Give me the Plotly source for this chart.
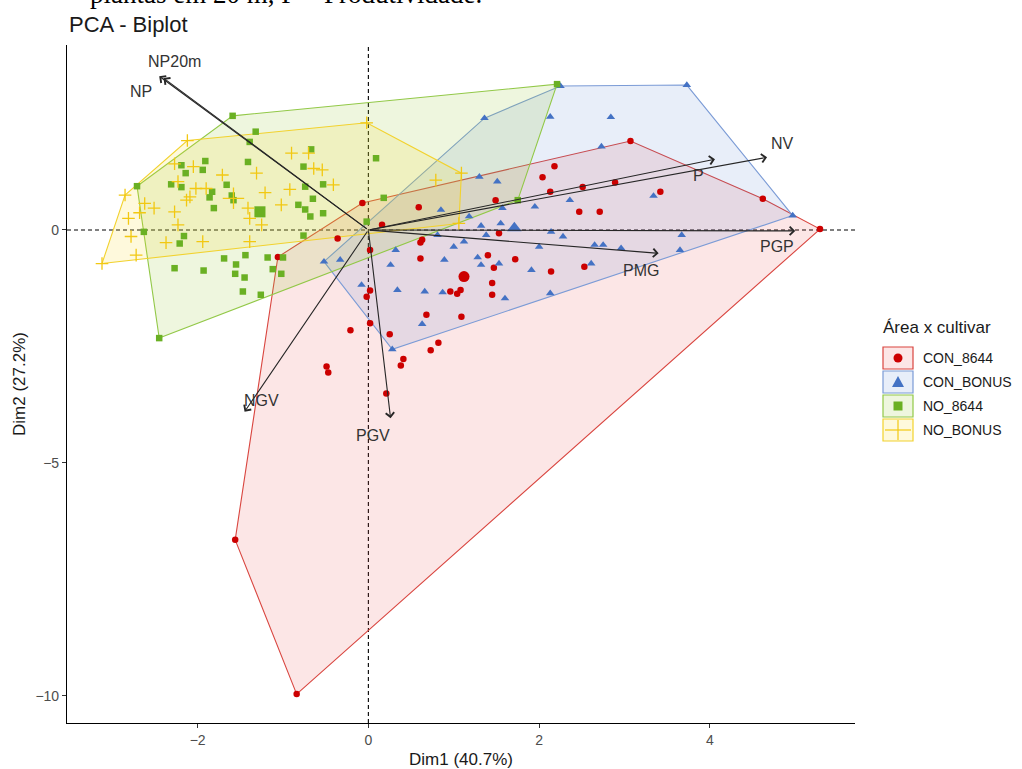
import plotly.graph_objects as go

# ---------------- data (Dim1, Dim2) ----------------
groups = ["CON_8644", "CON_BONUS", "NO_8644", "NO_BONUS"]

con8644_x = [5.29, 4.62, 3.07, -0.07, -1.06, -1.56, -0.84,
             2.18, 2.04, 2.13, 2.51, 2.89, 3.42, 2.47, 2.71, 1.49, 0.59, 0.16, 0.63, 0.61, 1.53,
             0.61, 1.40, 1.47, 1.72, 2.14, 2.53, 1.45, 1.45, 0.96, 1.04, 1.08, 0.68, 1.09, 0.25,
             0.82, 0.73, -0.02, 0.02, 0.02, 0.02, -0.21, -0.36, 0.41, 0.38, -0.49, -0.47, 0.21]
con8644_y = [0.02, 0.67, 1.91, 0.58, -0.58, -6.65, -9.96,
             1.37, 1.13, 0.82, 0.92, 1.02, 0.82, 0.39, 0.39, 0.64, 0.49, 0.11, -0.21, -0.27, -0.07,
             -0.61, -0.54, -0.81, -0.63, -0.89, -0.79, -1.14, -1.39, -1.32, -1.37, -1.29, -1.82, -1.86, -2.24,
             -2.42, -2.58, -1.43, -1.30, -2.00, -0.43, -2.15, -0.18, -2.77, -2.91, -2.93, -3.06, -3.51]

conbonus_x = [2.25, 3.73, 4.97, 0.28, -0.52, 1.36,
              2.13, 2.84, 2.73, 1.30, 1.51, 2.36, 1.95, 1.57, 0.85, 1.18, 1.32, 1.55, 1.38, 0.81,
              2.14, 2.28, 1.12, 1.00, 2.00, 2.65, 2.75, 2.96, 3.67, 3.65, 3.34, 0.32, 0.89, 1.28,
              1.32, 1.53, 0.26, 1.91, 2.61, -0.08, 0.34, 0.66, 0.87, 1.60, 2.13, 0.63, -0.33]
conbonus_y = [3.09, 3.11, 0.31, -2.56, -0.68, 2.40,
              2.43, 2.42, 1.79, 1.14, 1.04, 0.64, 0.50, 0.47, 0.43, 0.29, 0.09, 0.14, -0.11, -0.11,
              -0.04, -0.14, -0.25, -0.36, -0.36, -0.32, -0.32, -0.39, -0.11, -0.43, 0.73, -0.43, -0.64, -0.59,
              -0.75, -0.72, -0.75, -0.86, -0.72, -1.18, -1.29, -1.32, -1.34, -1.47, -1.36, -2.02, -0.64]

no8644_x = [-1.59, 2.21, 1.75, -2.45, -2.71,
            -1.32, -1.39, -0.67, 0.09, -1.91, -2.19, -1.94, -1.41, -0.76, -2.14, -2.31, -2.19, -1.66,
            -1.83, -1.86, -1.60, -1.58, -0.53, -0.74, -0.65, -1.81, -0.82, -0.74, -0.68, -0.53, -2.63,
            -2.16, -2.21, -0.76, -0.02, -1.44, -1.69, -1.18, -1.55, -2.27, -1.93, -1.56, -1.45, -1.12,
            -1.02, -1.47, -1.26, 0.18, -1.00]
no8644_y = [2.45, 3.13, 0.64, -2.32, 0.94,
            2.11, 1.89, 1.73, 1.54, 1.48, 1.39, 1.29, 1.46, 1.36, 1.22, 0.98, 0.92, 0.97,
            0.82, 0.70, 0.74, 0.64, 0.98, 0.93, 0.67, 0.47, 0.54, 0.44, 0.29, 0.36, -0.04,
            -0.13, -0.29, -0.12, 0.18, -0.54, -0.61, -0.59, -0.74, -0.82, -0.87, -0.94, -1.02, -0.84,
            -0.94, -1.32, -1.39, 0.69, -0.59]

nobonus_x = [-2.85, -2.12, -0.02, 1.09, 1.06, -3.12,
             -0.90, -0.70, -0.64, -0.54, -0.41, -0.92, -1.02, -1.21, -1.31, -1.71, -2.05, -2.27, -2.23,
             -2.02, -1.90, -2.13, -2.09, -2.27, -2.51, -2.62, -2.81, -2.78, -2.72, -2.37, -2.23, -1.94,
             -1.41, -1.39, -1.25, -1.39, -2.68, 0.79]
nobonus_y = [0.75, 1.92, 2.30, 1.22, 0.14, -0.72,
             1.65, 1.65, 1.32, 1.29, 0.97, 0.87, 0.54, 0.80, 1.22, 1.18, 1.36, 1.42, 1.04,
             0.89, 0.89, 0.64, 0.71, 0.39, 0.47, 0.57, 0.25, -0.14, -0.54, -0.27, 0.11, -0.25,
             0.47, 0.25, 0.11, -0.25, 0.37, 1.07]

mean_x = [1.12, 1.71, -1.27, -1.58]
mean_y = [-1.00, 0.04, 0.39, 0.68]

var_names = ["NP20m", "NP", "NV", "P", "PGP", "PMG", "NGV", "PGV"]
var_x = [-2.45, -2.40, 4.67, 4.06, 5.00, 3.40, -1.45, 0.26]
var_y = [3.30, 3.26, 1.56, 1.52, -0.02, -0.50, -3.90, -4.04]
lab_x = [-2.27, -2.66, 4.85, 3.87, 4.79, 3.19, -1.25, 0.06]
lab_y = [3.61, 2.98, 1.85, 1.18, -0.36, -0.86, -3.65, -4.40]

x_ticks = [-2, 0, 2, 4]
y_ticks = [-10, -5, 0]

# ---------------- style ----------------
pt_col = ["#CC0000", "#4472C4", "#6AB023", "#F2C811"]
ln_col = ["#D9453F", "#7B9BD6", "#92C847", "#F2D22E"]
fill_col = ["rgba(235,60,60,0.13)", "rgba(80,125,205,0.13)",
            "rgba(150,200,50,0.16)", "rgba(250,215,40,0.16)"]
symbols = ["circle", "triangle-up", "square", "cross-thin"]
sizes = [6.5, 7.5, 6.5, 9]

xs_all = [con8644_x, conbonus_x, no8644_x, nobonus_x]
ys_all = [con8644_y, conbonus_y, no8644_y, nobonus_y]


def convex_hull(xs, ys):
    pts = sorted(set(zip(xs, ys)))

    def cross(o, a, b):
        return (a[0] - o[0]) * (b[1] - o[1]) - (a[1] - o[1]) * (b[0] - o[0])
    lower, upper = [], []
    for p in pts:
        while len(lower) >= 2 and cross(lower[-2], lower[-1], p) <= 0:
            lower.pop()
        lower.append(p)
    for p in reversed(pts):
        while len(upper) >= 2 and cross(upper[-2], upper[-1], p) <= 0:
            upper.pop()
        upper.append(p)
    h = lower[:-1] + upper[:-1]
    h.append(h[0])
    return [p[0] for p in h], [p[1] for p in h]


fig = go.Figure()

# hulls
for i in range(4):
    hx, hy = convex_hull(xs_all[i], ys_all[i])
    fig.add_trace(go.Scatter(x=hx, y=hy, mode="lines", fill="toself",
                             fillcolor=fill_col[i], line=dict(color=ln_col[i], width=1.1),
                             hoverinfo="skip", showlegend=False))

# points
for i in range(4):
    mk = dict(symbol=symbols[i], size=sizes[i], color=pt_col[i])
    if symbols[i] == "cross-thin":
        mk["line"] = dict(color=pt_col[i], width=1.3)
    else:
        mk["line"] = dict(width=0)
    fig.add_trace(go.Scatter(x=xs_all[i], y=ys_all[i], mode="markers", marker=mk,
                             name=groups[i], showlegend=False))
    mk2 = dict(mk)
    mk2["size"] = sizes[i] * 1.7
    fig.add_trace(go.Scatter(x=[mean_x[i]], y=[mean_y[i]], mode="markers", marker=mk2,
                             showlegend=False))

# zero lines
shapes = [
    dict(type="line", xref="x", yref="paper", x0=0, x1=0, y0=0, y1=1,
         line=dict(color="black", width=1.1, dash="4px,3px"), layer="below"),
    dict(type="line", xref="paper", yref="y", x0=0, x1=1, y0=0, y1=0,
         line=dict(color="black", width=1.1, dash="4px,3px"), layer="below"),
]

annotations = []
# variable arrows
for i, nm in enumerate(var_names):
    annotations.append(dict(x=var_x[i], y=var_y[i], ax=0, ay=0, xref="x", yref="y",
                            axref="x", ayref="y", showarrow=True, arrowhead=4,
                            arrowsize=1.5, arrowwidth=1.1, arrowcolor="#262626", text=""))
    annotations.append(dict(x=lab_x[i], y=lab_y[i], xref="x", yref="y", text=nm,
                            showarrow=False, font=dict(family="Liberation Sans", size=16,
                                                       color="#333333")))

# page geometry (page pixels, body margin removed)
W, H = 1022, 769
L, R, T, B = 67, 167, 45, 46
PW, PH = W - L - R, H - T - B


def px_x(p):
    return (p - L) / PW


def px_y(p):
    return (H - B - p) / PH


# title / caption / axis titles
annotations.append(dict(x=px_x(67), y=px_y(24), xref="paper", yref="paper", xanchor="left",
                        yanchor="middle", text="PCA - Biplot", showarrow=False,
                        font=dict(family="Liberation Sans", size=22, color="#1a1a1a")))
annotations.append(dict(x=px_x(88), y=px_y(-6), xref="paper", yref="paper", xanchor="left",
                        yanchor="middle", text="plantas em 20 m, P = Produtividade.",
                        showarrow=False,
                        font=dict(family="Liberation Serif", size=27, color="black")))
annotations.append(dict(x=0.5, y=px_y(759), xref="paper", yref="paper", xanchor="center",
                        yanchor="middle", text="Dim1 (40.7%)", showarrow=False,
                        font=dict(family="Liberation Sans", size=17, color="#1a1a1a")))
annotations.append(dict(x=px_x(19), y=0.5, xref="paper", yref="paper", xanchor="center",
                        yanchor="middle", text="Dim2 (27.2%)", showarrow=False, textangle=-90,
                        font=dict(family="Liberation Sans", size=17, color="#1a1a1a")))

# custom legend
annotations.append(dict(x=px_x(881), y=px_y(328), xref="paper", yref="paper", xanchor="left",
                        yanchor="middle", text="Área x cultivar", showarrow=False,
                        font=dict(family="Liberation Sans", size=17, color="#1a1a1a")))
centers = [358, 382, 406, 430]
for i in range(4):
    c = centers[i]
    shapes.append(dict(type="rect", xref="paper", yref="paper",
                       x0=px_x(883), x1=px_x(913), y0=px_y(c + 11), y1=px_y(c - 11),
                       fillcolor=fill_col[i], line=dict(color=ln_col[i], width=1.2)))
    annotations.append(dict(x=px_x(921), y=px_y(c), xref="paper", yref="paper", xanchor="left",
                            yanchor="middle", text=groups[i], showarrow=False,
                            font=dict(family="Liberation Sans", size=14, color="#1a1a1a")))
cx = 898
c = centers[0]
shapes.append(dict(type="circle", xref="paper", yref="paper", x0=px_x(cx - 4.5), x1=px_x(cx + 4.5),
                   y0=px_y(c + 4.5), y1=px_y(c - 4.5), fillcolor=pt_col[0], line=dict(width=0)))
c = centers[1]
shapes.append(dict(type="path", xref="paper", yref="paper",
                   path="M %f %f L %f %f L %f %f Z" % (px_x(cx - 6), px_y(c + 5), px_x(cx + 6),
                                                      px_y(c + 5), px_x(cx), px_y(c - 6)),
                   fillcolor=pt_col[1], line=dict(width=0)))
c = centers[2]
shapes.append(dict(type="rect", xref="paper", yref="paper", x0=px_x(cx - 4.5), x1=px_x(cx + 4.5),
                   y0=px_y(c + 4.5), y1=px_y(c - 4.5), fillcolor=pt_col[2], line=dict(width=0)))
c = centers[3]
shapes.append(dict(type="line", xref="paper", yref="paper", x0=px_x(cx - 13), x1=px_x(cx + 13),
                   y0=px_y(c), y1=px_y(c), line=dict(color=pt_col[3], width=1.2)))
shapes.append(dict(type="line", xref="paper", yref="paper", x0=px_x(cx), x1=px_x(cx),
                   y0=px_y(c + 10), y1=px_y(c - 10), line=dict(color=pt_col[3], width=1.2)))

axis_common = dict(showline=True, linecolor="black", linewidth=1.1, ticks="outside", ticklen=4,
                   tickcolor="#333333", tickwidth=1, showgrid=False, zeroline=False,
                   tickfont=dict(family="Liberation Sans", size=14, color="#4D4D4D"))

fig.update_layout(
    width=W, height=H, autosize=False,
    margin=dict(l=L, r=R, t=T, b=B),
    paper_bgcolor="white", plot_bgcolor="white",
    xaxis=dict(range=[-3.53, 5.70], tickvals=x_ticks, **axis_common),
    yaxis=dict(range=[-10.58, 3.97], tickvals=y_ticks, **axis_common),
    shapes=shapes, annotations=annotations, showlegend=False,
)

fig.write_html(
    "out.html",
    config={"displayModeBar": False},
    post_script="document.body.style.margin='0px';document.body.style.padding='0px';"
                "document.body.style.overflow='hidden';",
)
